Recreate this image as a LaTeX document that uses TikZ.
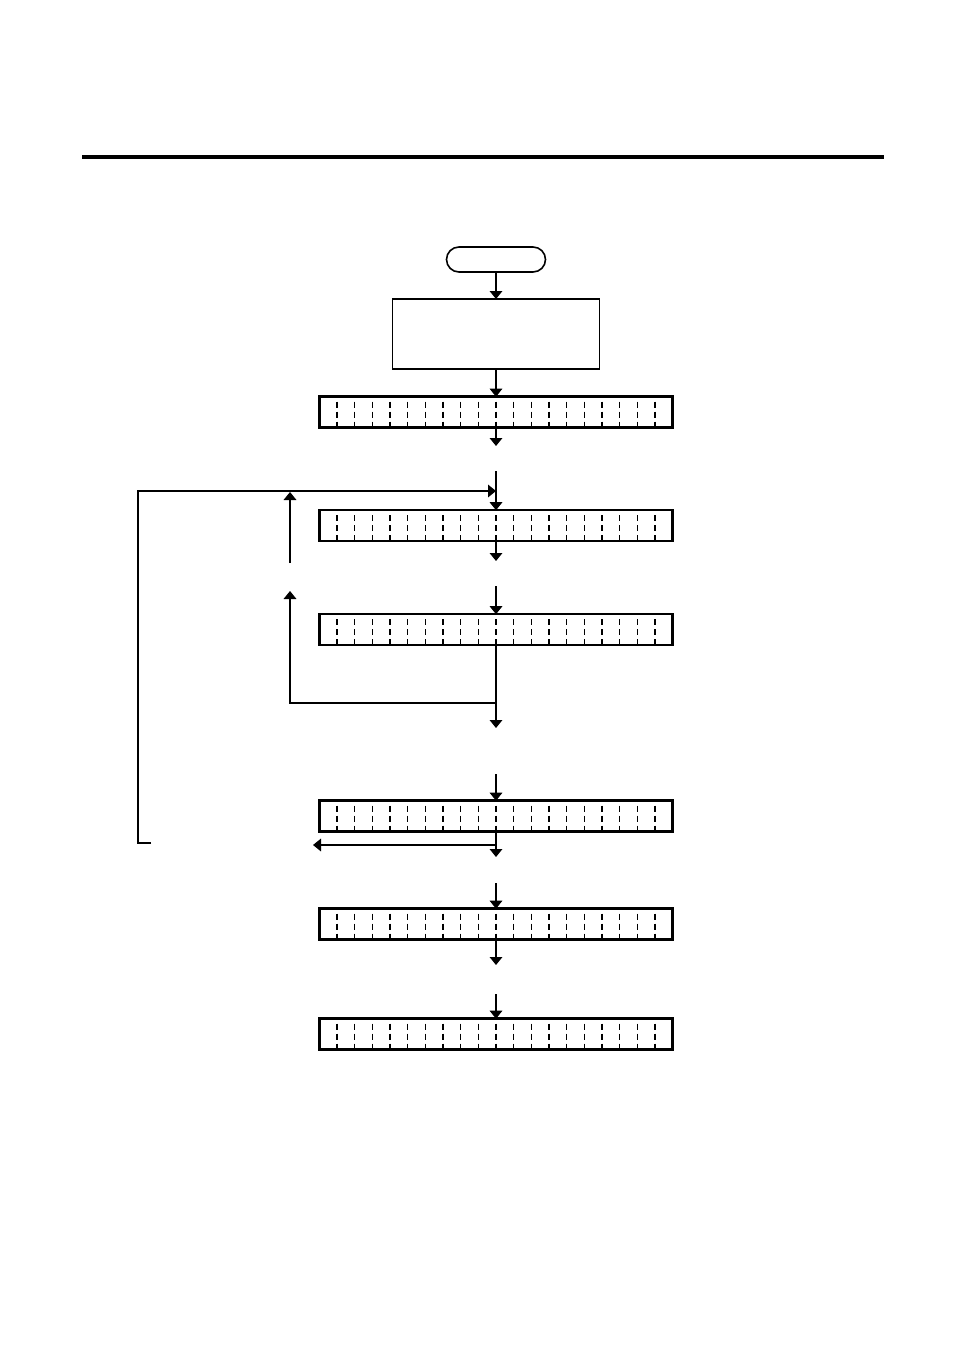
\documentclass[tikz,border=0pt]{standalone}
\usepackage{tikz}
\usetikzlibrary{arrows.meta,positioning,calc}

\begin{document}
\begin{tikzpicture}[
    x=0.75pt, y=-0.75pt,
    lcd/.style={draw, line width=1.8pt, minimum width=265pt, minimum height=23pt,
                inner sep=0pt, outer sep=0pt},
    cell/.style={line width=0.9pt, dash pattern=on 4.5pt off 3pt, dash phase=3.75pt},
    box/.style={draw, line width=1.2pt, minimum width=155.25pt, minimum height=52.5pt,
                inner sep=0pt, outer sep=0pt},
    term/.style={draw, line width=1.2pt, rounded corners=9.4pt, minimum width=74.25pt,
                minimum height=18.75pt, inner sep=0pt, outer sep=0pt},
    wire/.style={line width=0.9pt},
    flow/.style={wire, -{Triangle[width=9.5pt,length=6pt]}}
]
    \useasboundingbox (0,0) rectangle (954,1348);

    % header rule
    \draw[line width=2.5pt] (82,157) -- (884,157);

    % start and first steps
    \node[term] (start) at (496,259.5) {};
    \node[box] (init) at (496,334) {};
    \node[lcd] (lcdA) at (496,412) {};

    % display stages
    \node[lcd] (lcdB) at (496,525.5) {};
    \node[lcd] (lcdC) at (496,629.5) {};
    \node[lcd] (lcdD) at (496,816) {};
    \node[lcd] (lcdE) at (496,924) {};
    \node[lcd] (lcdF) at (496,1034) {};

    % character cells
    \foreach \n in {lcdA,lcdB,lcdC,lcdD,lcdE,lcdF}
        \foreach \k in {1,...,19}
            \draw[cell] ($(\n.north west)!\k/20!(\n.north east)$) -- ($(\n.south west)!\k/20!(\n.south east)$);

    % free ends
    \coordinate (outA) at (496,446);
    \coordinate (inB) at (496,471);
    \coordinate (outB) at (496,561);
    \coordinate (inC) at (496,586);
    \coordinate (joinC) at (496,703);
    \coordinate (outC) at (496,728);
    \coordinate (inD) at (496,774);
    \coordinate (joinD) at (496,845);
    \coordinate (outD) at (496,857);
    \coordinate (backD) at (313,845);
    \coordinate (inE) at (496,883);
    \coordinate (outE) at (496,965);
    \coordinate (inF) at (496,994);
    \coordinate (loopS) at (151,843);
    \coordinate (loopE) at (496,491);
    \coordinate (upAlow) at (290,563);
    \coordinate (upAtop) at (290,492);
    \coordinate (upBtop) at (290,591);

    % main flow
    \draw[flow] (start) -- (init);
    \draw[flow] (init) -- (lcdA);
    \draw[flow] (lcdA) -- (outA);
    \draw[flow] (inB) -- (lcdB);
    \draw[flow] (lcdB) -- (outB);
    \draw[flow] (inC) -- (lcdC);
    \draw[flow] (lcdC) -- (outC);
    \draw[flow] (inD) -- (lcdD);
    \draw[flow] (lcdD) -- (outD);
    \draw[flow] (inE) -- (lcdE);
    \draw[flow] (lcdE) -- (outE);
    \draw[flow] (inF) -- (lcdF);

    % return paths
    \draw[flow] (loopS) -- ++(-13,0) |- (loopE);
    \draw[flow] (upAlow) -- (upAtop);
    \draw[flow] (joinC) -| (upBtop);
    \draw[flow] (joinD) -- (backD);
\end{tikzpicture}
\end{document}
